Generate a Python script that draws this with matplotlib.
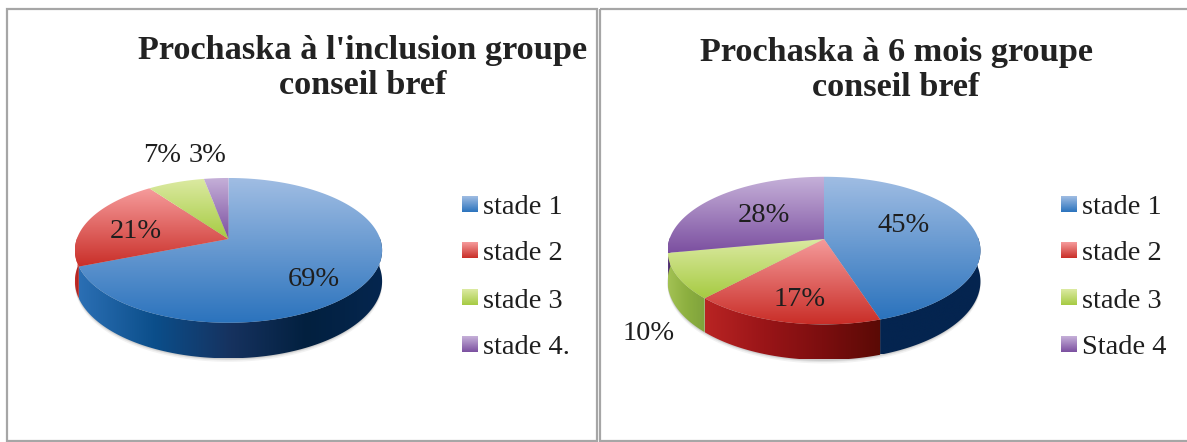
import numpy as np
import matplotlib
matplotlib.use("Agg")
import matplotlib.pyplot as plt
from matplotlib.patches import Polygon, Rectangle
from matplotlib.colors import LinearSegmentedColormap

plt.rcParams['font.family'] = ['Liberation Serif', 'DejaVu Serif']

left_title = "Prochaska à l'inclusion groupe\nconseil bref"
right_title = "Prochaska à 6 mois groupe\nconseil bref"
left_labels = ["stade 1", "stade 2", "stade 3", "stade 4."]
right_labels = ["stade 1", "stade 2", "stade 3", "Stade 4"]
left_values = [69, 21, 7, 3]
right_values = [45, 17, 10, 28]

TOP_COLORS = [("#A0BDE3", "#2B73BD"), ("#F69C9C", "#C92E28"),
              ("#DCEAA3", "#A6CB42"), ("#C6B1D9", "#7B4FA0")]
LEFT_WALLS = [["#2B6FB4", "#0B4E8A", "#16325F", "#02203F", "#05264F"],
              ["#C8302A", "#A82020"],
              ["#8DB040", "#7FA23C"],
              ["#5E3B80", "#3D2456"]]
RIGHT_WALLS = [["#04244F", "#04244F"],
               ["#B92423", "#9A1518", "#7C0E0F", "#5A0A05"],
               ["#A3C254", "#8DB040", "#7FA23C"],
               ["#5E3B80", "#3D2456"]]

K = 0.157
fig = plt.figure(figsize=(11.87, 4.42), dpi=100, facecolor="white")
ax = fig.add_axes([0, 0, 1, 1])
ax.set_xlim(0, 1187)
ax.set_ylim(442, 0)
ax.axis("off")


def project(theta, cx, cy, a, b):
    u, v = np.sin(theta), -np.cos(theta)
    w = 1 - K * v
    return cx + a * u / w, cy + b * v / w, w


def grad_image(colors, extent, horizontal, clip, z):
    cmap = LinearSegmentedColormap.from_list("g", colors)
    data = np.linspace(0, 1, 256)
    data = data[None, :] if horizontal else data[:, None]
    im = ax.imshow(data, cmap=cmap, extent=extent, aspect="auto",
                   interpolation="bilinear", zorder=z)
    if clip is not None:
        ax.add_patch(clip)
        clip.set_visible(False)
        im.set_clip_path(clip)
    return im


def draw_pie(values, walls, cx, cy, a, b, d):
    fracs = np.cumsum([0] + list(values)) / sum(values) * 2 * np.pi
    # soft shadow under the disc
    t = np.linspace(0, 2 * np.pi, 300)
    x, y, w = project(t, cx, cy, a, b)
    for grow, alpha in ((3.5, .10), (2, .15), (1, .2)):
        ax.add_patch(Polygon(np.c_[x, y + d / w + grow], closed=True, fc="#808080",
                             ec="none", alpha=alpha, zorder=1))
    # walls, for the front part of each slice
    for i in range(len(values)):
        t0, t1 = max(fracs[i], np.pi / 2 - .03), min(fracs[i + 1], 3 * np.pi / 2 + .03)
        if t1 <= t0:
            continue
        t = np.linspace(t0, t1, 120)
        x, y, w = project(t, cx, cy, a, b)
        pts = np.r_[np.c_[x, y], np.c_[x, y + d / w][::-1]]
        clip = Polygon(pts, closed=True, transform=ax.transData, fc="none", ec="none")
        grad_image(walls[i], (x.min(), x.max(), y.max() + d + 5, y.min()), True, clip, 2 + i * .01)
    # top surfaces
    for i in range(len(values)):
        t = np.linspace(fracs[i], fracs[i + 1], 200)
        x, y, _ = project(t, cx, cy, a, b)
        pts = np.r_[[[cx, cy]], np.c_[x, y]]
        clip = Polygon(pts, closed=True, transform=ax.transData, fc="none", ec="none")
        grad_image(TOP_COLORS[i], (pts[:, 0].min(), pts[:, 0].max(), pts[:, 1].max(), pts[:, 1].min()),
                   False, clip, 3 + i * .01)


def draw_legend(labels, sw_x, text_x):
    for i, (lab, yc) in enumerate(zip(labels, (204, 250.5, 297.5, 344.5))):
        grad_image(TOP_COLORS[i], (sw_x, sw_x + 15.5, yc + 8, yc - 8), False, None, 4)
        ax.text(text_x, yc + 3.5, lab, fontsize=20.5, va="center", ha="left", color="#1E1E1E", zorder=5)


draw_pie(left_values, LEFT_WALLS, 228.5, 239, 151.7, 70.6, 30)
draw_pie(right_values, RIGHT_WALLS, 824, 239, 154.5, 72, 30)
ax.set_xlim(0, 1187)
ax.set_ylim(442, 0)

draw_legend(left_labels, 462, 483)
draw_legend(right_labels, 1061, 1082)

title_kw = dict(fontsize=24.7, fontweight="bold", ha="center", va="center",
                color="#222222", linespacing=1.19, zorder=5)
ax.text(363, 68, left_title, **title_kw)
ax.text(896, 70, right_title, **title_kw)

label_kw = dict(fontsize=20.5, ha="center", va="center", color="#1E1E1E", zorder=6)
for s, x, y in zip(left_values, (314, 136, 162, 208), (279, 232, 156, 156)):
    ax.text(x, y, f"{s}%", **label_kw)
for s, x, y in zip(right_values, (904, 800, 649, 764), (226, 299, 334, 215)):
    ax.text(x, y, f"{s}%", **label_kw)

for x0, x1 in ((7, 597), (600, 1192)):
    ax.add_patch(Rectangle((x0, 8.5), x1 - x0, 432, fc="none", ec="#A6A6A6", lw=1.6, zorder=7))

fig.savefig("out.png", dpi=100, facecolor="white")
